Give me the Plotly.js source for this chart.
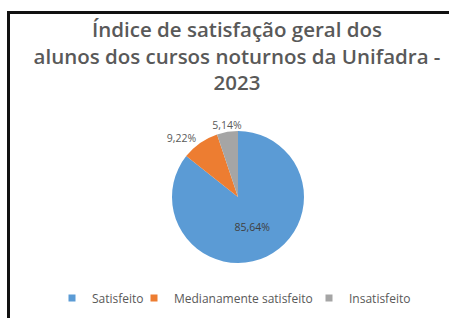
<!DOCTYPE html>
<html>
<head>
<meta charset="utf-8">
<script src="https://cdn.plot.ly/plotly-3.0.1.min.js"></script>
<style>
  html, body { margin: 0; padding: 0; background: #fff; overflow: hidden; }
  #chart { position: absolute; left: 0; top: 0; width: 449px; height: 318px; }
  #frame { position: absolute; left: 7px; top: 11px; width: 460px; height: 330px;
           border-top: 3px solid #111; border-left: 3px solid #111; pointer-events: none; }
</style>
</head>
<body>
<div id="chart"></div>
<div id="frame"></div>
<script>
const titleLines = ["Índice de satisfação geral dos", "alunos dos cursos noturnos da Unifadra -", "2023"];
const categories = ["Satisfeito", "Medianamente satisfeito", "Insatisfeito"];
const values = [85.64, 9.22, 5.14];
const colors = ["#5B9BD5", "#ED7D31", "#A5A5A5"];

const W = 449, H = 318;
const font = "Open Sans, sans-serif";
const dom = { x: [(238 - 66) / W, (238 + 66) / W], y: [1 - 263 / H, 1 - 131 / H] };
const dom2 = { x: [(238 - 66 + 18) / W, (238 + 66 + 18) / W], y: dom.y };

// main pie: slices and labels for first two slices
const trace = {
  type: "pie",
  labels: categories,
  values: values,
  sort: false,
  direction: "clockwise",
  rotation: 0,
  marker: { colors: colors, line: { width: 0 } },
  texttemplate: ["%{value:.2f}%", "%{value:.2f}%", ""],
  textposition: ["inside", "outside", "none"],
  insidetextfont: { family: font, size: 10.5, color: "#404040" },
  outsidetextfont: { family: font, size: 10.5, color: "#595959" },
  hoverinfo: "none",
  showlegend: false,
  automargin: false,
  domain: dom
};
// transparent overlay pie carrying the last slice's label so it is not pushed aside
const trace2 = {
  type: "pie",
  labels: categories,
  values: values,
  sort: false,
  direction: "clockwise",
  rotation: 0,
  marker: { colors: ["rgba(0,0,0,0)", "rgba(0,0,0,0)", "rgba(0,0,0,0)"], line: { width: 0 } },
  texttemplate: ["", "", "%{value:.2f}%"],
  textposition: ["none", "none", "outside"],
  outsidetextfont: { family: font, size: 10.5, color: "#595959" },
  hoverinfo: "none",
  showlegend: false,
  automargin: false,
  domain: dom2
};
// legend entries (one legend per category so each can be placed like the original)
const legendNames = ["legend", "legend2", "legend3"];
const legendTraces = categories.map((c, i) => ({
  type: "scatter", mode: "markers", x: [null], y: [null], name: c,
  marker: { symbol: "square", size: 7, color: colors[i] },
  legend: legendNames[i], hoverinfo: "none"
}));

const textStarts = [92, 174, 349];
function mkLegend(i) {
  return {
    orientation: "h", x: (textStarts[i] - 40) / W, xanchor: "left", y: 1 - 298 / H, yanchor: "middle",
    font: { family: font, size: 12, color: "#595959" }, bgcolor: "rgba(0,0,0,0)",
    itemwidth: 30
  };
}

const layout = {
  width: W, height: H,
  margin: { l: 0, r: 0, t: 0, b: 0 },
  paper_bgcolor: "#fff",
  plot_bgcolor: "rgba(0,0,0,0)",
  separators: ",.",
  title: {
    text: titleLines.join("<br>"),
    x: 237 / W, xanchor: "center", xref: "container",
    y: 1 - 37 / H, yanchor: "top", yref: "container",
    font: { family: font, size: 20.5, weight: 600, color: "#595959" }
  },
  showlegend: true,
  xaxis: { visible: false }, yaxis: { visible: false },
  legend: mkLegend(0), legend2: mkLegend(1), legend3: mkLegend(2)
};

Plotly.newPlot("chart", [trace, trace2].concat(legendTraces), layout, { displayModeBar: false, staticPlot: true });
</script>
</body>
</html>
